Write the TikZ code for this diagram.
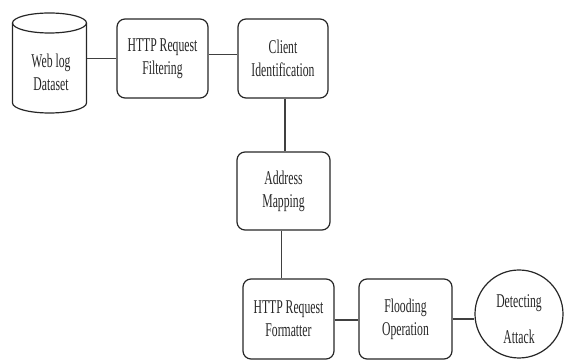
\documentclass[tikz,border=0pt]{standalone}
\usepackage{fontspec}
\setmainfont[FakeStretch=0.6]{Liberation Serif}
\begin{document}
\begin{tikzpicture}[x=1pt,y=1pt,
  line width=1.2pt,
  every node/.style={font=\fontsize{19.5}{23}\selectfont, align=center, text=black!85},
  proc/.style={draw=black!85, rounded corners=8pt, inner sep=0pt},
  link/.style={draw=black!75, line width=1.1pt}]
\useasboundingbox (0,0) rectangle (566,361);

% web log store (drawn cylinder with a named frame for connectors)
\node[inner sep=0pt, minimum width=74pt, minimum height=100pt] (db) at (49.5,298) {};
\draw[black!85] (49.5,338) ellipse [x radius=37, y radius=10];
\draw[black!85] (12.5,338) -- (12.5,258) arc [start angle=180, end angle=360, x radius=37, y radius=10] -- (86.5,338);
\node (dbtext) at (51,289) {Web log\\Dataset};

% processing stages
\node[proc, minimum width=91pt, minimum height=79pt] (filt) at (162.5,302.5) {HTTP Request\\Filtering};
\node[proc, minimum width=90pt, minimum height=79pt] (client) at (283,302.5) {Client\\Identification};
\node[proc, minimum width=93pt, minimum height=78pt] (addr) at (283.5,170) {Address\\Mapping};
\node[proc, minimum width=91pt, minimum height=80pt] (fmt) at (288.5,42) {HTTP Request\\Formatter};
\node[proc, minimum width=93pt, minimum height=80pt] (flood) at (405.5,42) {Flooding\\Operation};

% result
\node[draw=black!85, circle, minimum size=88pt, inner sep=0pt] (atk) at (519,47) {};
\node (atktext) at ([yshift=-5pt]atk.center) {Detecting\\[13pt]Attack};

% connectors
\draw[link] (filt.west) -- (filt.west -| db.east);
\draw[link] ([yshift=4pt]filt.east) -- ([yshift=4pt]filt.east -| client.west);
\draw[link] ([xshift=2pt]client.south) -- ([xshift=2pt]client.south |- addr.north);
\draw[link] ([xshift=-2pt]addr.south) -- ([xshift=-2pt]addr.south |- fmt.north);
\draw[link] ([yshift=-1pt]fmt.east) -- ([yshift=-1pt]fmt.east -| flood.west);
\draw[link] (flood.east) -- (flood.east -| atk.west);
\end{tikzpicture}
\end{document}
